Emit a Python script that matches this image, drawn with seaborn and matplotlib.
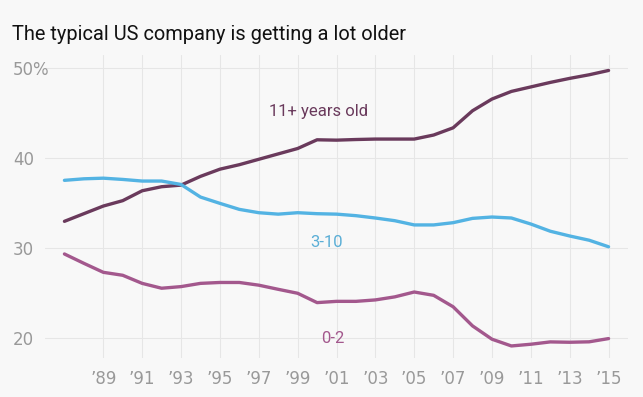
import matplotlib
matplotlib.use("Agg")
import matplotlib.pyplot as plt
import seaborn as sns
import pandas as pd

years = list(range(1987, 2016))
old_11 = [33.0, 33.85, 34.7, 35.3, 36.4, 36.85, 37.03, 38.0, 38.8, 39.3, 39.9, 40.5, 41.1,
          42.07, 42.03, 42.1, 42.15, 42.15, 42.15, 42.6, 43.4, 45.3, 46.6, 47.45, 47.95,
          48.45, 48.9, 49.3, 49.78]
mid_3_10 = [37.56, 37.73, 37.8, 37.66, 37.48, 37.48, 37.1, 35.7, 35.0, 34.33, 33.96, 33.8,
            33.96, 33.85, 33.8, 33.63, 33.37, 33.07, 32.6, 32.6, 32.85, 33.33, 33.48, 33.37,
            32.7, 31.9, 31.37, 30.9, 30.17]
young_0_2 = [29.37, 28.33, 27.33, 27.0, 26.1, 25.56, 25.74, 26.1, 26.2, 26.2, 25.9, 25.44,
             25.0, 23.96, 24.1, 24.1, 24.26, 24.6, 25.14, 24.77, 23.5, 21.37, 19.89, 19.14,
             19.33, 19.59, 19.55, 19.6, 19.96]
series_names = ["11+ years old", "3-10", "0-2"]
colors = ["#6a3a5c", "#53b3e3", "#a3588d"]
label_colors = ["#6a3a5c", "#5aaed6", "#a3588d"]
label_pos = [(2000.06, 45.26), (2000.5, 30.6), (2000.8, 20.0)]
x_ticks = list(range(1989, 2016, 2))
x_tick_labels = ["\u2019" + str(y)[2:] for y in x_ticks]
y_ticks = [20, 30, 40, 50]
y_tick_labels = ["20", "30", "40", "50%"]
title = "The typical US company is getting a lot older"

frames = []
for name, vals in zip(series_names, [old_11, mid_3_10, young_0_2]):
    frames.append(pd.DataFrame({"year": years, "share": vals, "age": name}))
df = pd.concat(frames, ignore_index=True)

sns.set_theme(style="white")
plt.rcParams["font.family"] = ["Roboto", "DejaVu Sans"]

bg = "#f8f8f8"
W, H = 643, 397
fig = plt.figure(figsize=(W / 100, H / 100), dpi=100, facecolor=bg)
ax = fig.add_axes([45 / W, 1 - 358 / H, (628 - 45) / W, (358 - 55) / H], facecolor=bg)

sns.lineplot(data=df, x="year", y="share", hue="age", palette=dict(zip(series_names, colors)),
             linewidth=2.4, ax=ax, legend=False)

ax.set_xlim(1986, 2016)
ax.set_ylim(17.8, 51.5)
ax.set_xticks(x_ticks)
ax.set_xticklabels(x_tick_labels)
ax.set_yticks(y_ticks)
ax.set_yticklabels(y_tick_labels)
ax.set_xlabel("")
ax.set_ylabel("")
for s in ax.spines.values():
    s.set_visible(False)

grid_color = "#e6e6e6"
ax.grid(False)
for yt in y_ticks:
    ax.axhline(yt, color=grid_color, lw=0.8, zorder=0)
for xt in x_ticks:
    ax.axvline(xt, color=grid_color, lw=0.8, zorder=0)

ax.tick_params(axis="both", length=0, colors="#999999", labelsize=12)
ax.tick_params(axis="x", pad=9)
ax.tick_params(axis="y", pad=23)
for lab in ax.get_xticklabels() + ax.get_yticklabels():
    lab.set_family(["DejaVu Sans"])
for lab in ax.get_yticklabels():
    lab.set_horizontalalignment("left")

for name, (lx, ly), c in zip(series_names, label_pos, label_colors):
    ax.text(lx, ly, name, color=c, fontsize=12, ha="center", va="center")

fig.text(12 / W, 1 - 35 / H, title, fontsize=14.4, color="#111111", ha="left", va="center")

fig.savefig("out.png", dpi=100, facecolor=bg)
